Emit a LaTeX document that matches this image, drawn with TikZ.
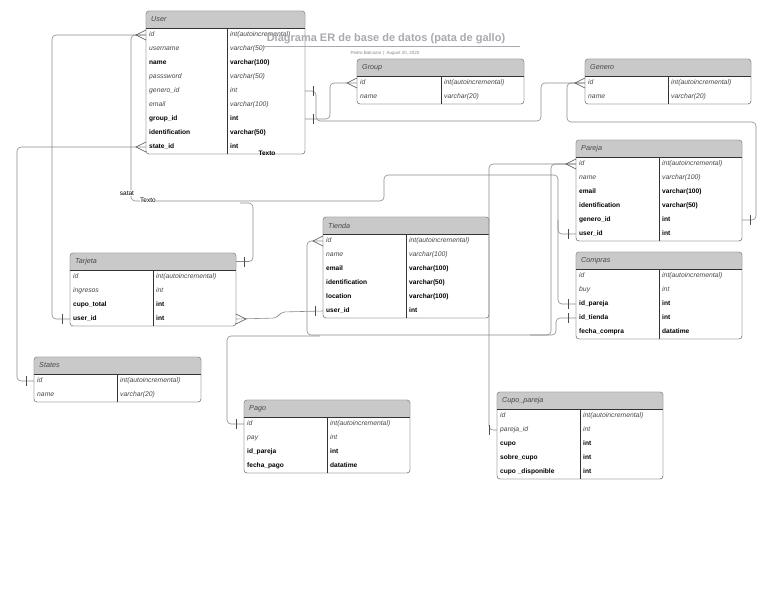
\documentclass[tikz,border=0pt]{standalone}
\usepackage{fontspec}
\setmainfont{Liberation Sans}
\usetikzlibrary{positioning}
\definecolor{hdrgray}{HTML}{C9C9C9}
\definecolor{linegray}{HTML}{8C8C8C}
\definecolor{boxgray}{HTML}{808080}
\definecolor{txtgray}{HTML}{474747}
\definecolor{titlegray}{HTML}{A9A9B0}
\tikzset{
    fld/.style={inner sep=0pt, text height=5pt, text depth=1.5pt, font=\fontsize{6.8}{7}\selectfont},
    fldit/.style={font=\fontsize{6.8}{7}\selectfont\itshape, text=txtgray},
    fldbf/.style={font=\fontsize{6.6}{7}\selectfont\bfseries},
    hdr/.style={inner sep=0pt, font=\fontsize{7.2}{8}\selectfont\itshape, text=txtgray},
    conn/.style={draw=linegray, line width=0.6pt, rounded corners=4pt},
    crow/.style={draw=black!70, line width=0.6pt},
    lbl/.style={inner sep=0.5pt, fill=white, font=\fontsize{6.5}{7}\selectfont}
}
% name, x, y, width, divider, rows, title, fields
\newcommand{\erentity}[8]{%
  \pgfmathsetmacro{\eb}{#3+17+14*#6}
  \draw[boxgray, fill=white, rounded corners=3pt] (#2,#3) rectangle (#2+#4,\eb);
  \fill[hdrgray, rounded corners=3pt] (#2,#3) rectangle (#2+#4,#3+17);
  \fill[hdrgray] (#2,#3+8) rectangle (#2+#4,#3+17);
  \draw[boxgray, rounded corners=3pt] (#2,#3) rectangle (#2+#4,\eb);
  \draw[black!80, line width=0.7pt] (#2,#3+17) -- (#2+#4,#3+17);
  \draw[black!80, line width=0.6pt] (#2+#5,#3+17) -- (#2+#5,\eb);
  \node[hdr, anchor=west] (#1) at (#2+5,#3+8.5) {#7};
  \coordinate (#1-he) at (#2+#4,#3+8.5);
  \foreach \st/\f/\t [count=\i] in {#8} {
    \node[fld, \st, anchor=west] (#1-\i) at (#2+3,#3+10+14*\i) {\f};
    \node[fld, \st, anchor=west] (#1-\i-t) at (#2+#5+3,#3+10+14*\i) {\t};
    \coordinate (#1-\i-w) at (#2,#3+10+14*\i);
    \coordinate (#1-\i-e) at (#2+#4,#3+10+14*\i);
  }
}
\newcommand{\crowL}[1]{\draw[crow] (#1) ++(0,-5) -- ++(-10,5) -- ++(10,5);}
\newcommand{\crowR}[1]{\draw[crow] (#1) ++(0,-5) -- ++(10,5) -- ++(-10,5);}
\newcommand{\oneL}[1]{\draw[crow] (#1) ++(-8,-5) -- ++(0,10);}
\newcommand{\oneR}[1]{\draw[crow] (#1) ++(8,-5) -- ++(0,10);}

\begin{document}
\begin{tikzpicture}[x=1pt, y=-1pt]
\useasboundingbox[fill=white] (0,0) rectangle (768,594);

\erentity{user}{146}{11}{159}{81}{9}{User}{
  fldit/id/int(autoincremental), fldit/username/varchar(50),
  fldbf/name/varchar(100), fldit/passsword/varchar(50),
  fldit/genero\_id/int, fldit/email/varchar(100),
  fldbf/group\_id/int, fldbf/identification/varchar(50),
  fldbf/state\_id/int}
\erentity{group}{357}{59}{167}{84}{2}{Group}{
  fldit/id/int(autoincremental), fldit/name/varchar(20)}
\erentity{genero}{585}{59}{166}{83}{2}{Genero}{
  fldit/id/int(autoincremental), fldit/name/varchar(20)}
\erentity{pareja}{576}{140}{166}{83}{6}{Pareja}{
  fldit/id/int(autoincremental), fldit/name/varchar(100),
  fldbf/email/varchar(100), fldbf/identification/varchar(50),
  fldbf/genero\_id/int, fldbf/user\_id/int}
\erentity{compras}{576}{252}{166}{83}{5}{Compras}{
  fldit/id/int(autoincremental), fldit/buy/int,
  fldbf/id\_pareja/int, fldbf/id\_tienda/int,
  fldbf/fecha\_compra/datatime}
\erentity{tarjeta}{70}{253}{166}{83}{4}{Tarjeta}{
  fldit/id/int(autoincremental), fldit/ingresos/int,
  fldbf/cupo\_total/int, fldbf/user\_id/int}
\erentity{tienda}{323}{217}{166}{83}{6}{Tienda}{
  fldit/id/int(autoincremental), fldit/name/varchar(100),
  fldbf/email/varchar(100), fldbf/identification/varchar(50),
  fldbf/location/varchar(100), fldbf/user\_id/int}
\erentity{states}{34}{357}{167}{83}{2}{States}{
  fldit/id/int(autoincremental), fldit/name/varchar(20)}
\erentity{pago}{244}{400}{166}{83}{4}{Pago}{
  fldit/id/int(autoincremental), fldit/pay/int,
  fldbf/id\_pareja/int, fldbf/fecha\_pago/datatime}
\erentity{cupo}{497}{392}{166}{83}{5}{Cupo\_pareja}{
  fldit/id/int(autoincremental), fldit/pareja\_id/int,
  fldbf/cupo/int, fldbf/sobre\_cupo/int,
  fldbf/cupo \_disponible/int}

% connectors
\draw[conn] (user-1-w) -- ++(-94,0) |- (tarjeta-4-w);
\draw[conn] (user-1-w) -| (131,201) -- (384,201) |- (558,175) |- (pareja-6-w);
\draw[conn] (558,220) |- (compras-3-w);
\draw[conn] (tarjeta-he) -- ++(17,0) |- (240,203);
\draw[conn] (user-9-w) -| (17,300) |- (states-1-w);
\draw[conn] (user-5-e) -| (316,121) -- (541,121) |- (genero-1-w);
\draw[conn] (user-7-e) -| (330,100) |- (group-1-w);
\draw[conn] (genero-1-w) -- ++(-18,0) |- (756,122) |- (pareja-5-e);
\draw[conn] (pareja-1-w) -| (551,335) -- (530,335);
\draw[conn] (pareja-1-w) -| (489,300) |- (cupo-2-w);
\draw[conn] (tienda-1-w) -| (307,300) |- (556,335) |- (compras-4-w);
\draw[conn] (pago-1-w) -| (227,380) |- (320,336);
\draw[conn] (tarjeta-4-e) -- (277,318) -- (281,312) -- (tienda-6-w);

% ends of the connectors
\crowL{user-1-w} \crowL{user-9-w}
\crowL{group-1-w} \crowL{genero-1-w}
\crowL{pareja-1-w} \crowL{tienda-1-w}
\crowR{tarjeta-4-e}
\oneL{tarjeta-4-w} \oneL{states-1-w} \oneL{pago-1-w}
\oneL{pareja-6-w} \oneL{compras-3-w} \oneL{compras-4-w}
\oneL{tienda-6-w} \oneL{cupo-2-w}
\oneR{user-5-e} \oneR{user-7-e} \oneR{tarjeta-he} \oneR{pareja-5-e}

\node[lbl] (satat) at (127,193) {satat};
\node[lbl] (texto1) at (148,200) {Texto};
\node[lbl, fill=none, font=\fontsize{6.5}{7}\selectfont\bfseries] (texto2) at (267,153) {Texto};

\node[font=\fontsize{11}{13}\selectfont\bfseries, text=titlegray] (title) at (386,39) {Diagrama ER de base de datos (pata de gallo)};
\draw[titlegray, line width=0.5pt] (263,46) -- (520,46);
\node[font=\fontsize{4.5}{5}\selectfont, text=titlegray!80!black] (sub) at (385,53) {Pedro Balcazar \,|\, August 20, 2020};
\end{tikzpicture}
\end{document}
